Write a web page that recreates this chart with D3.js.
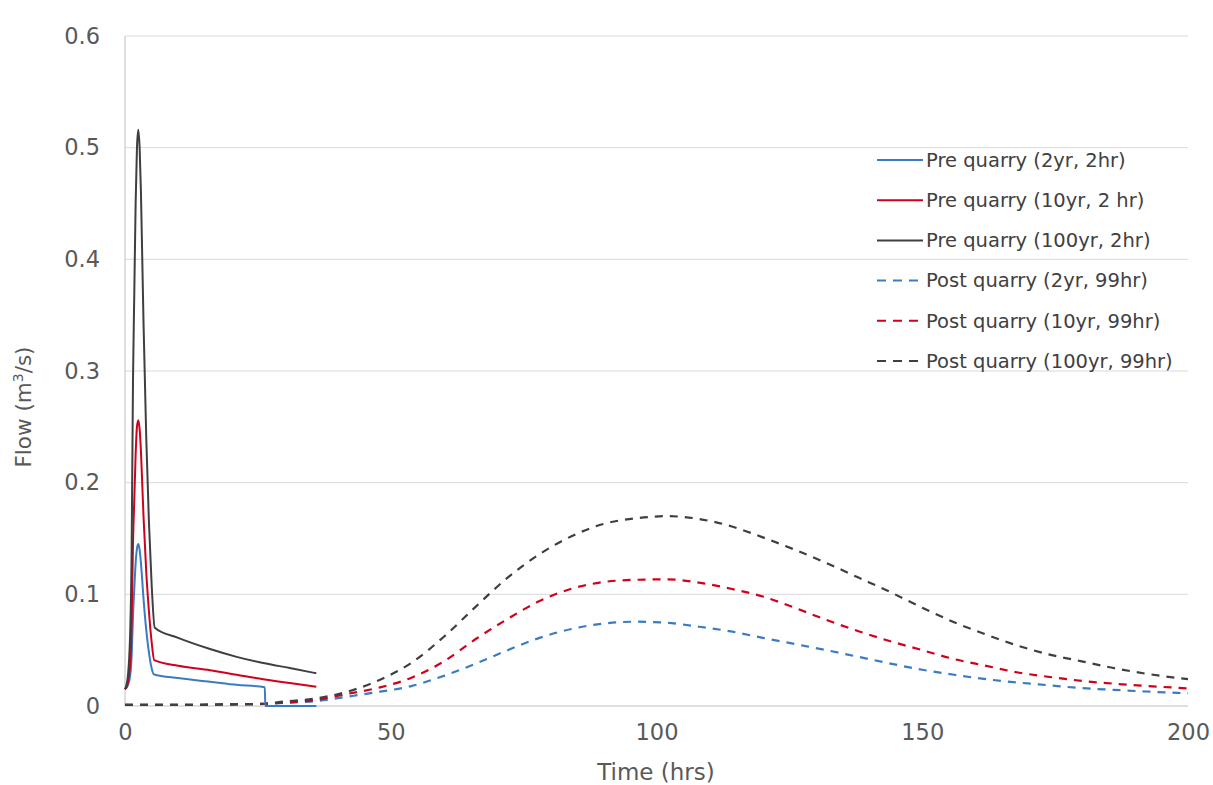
<!DOCTYPE html>
<html>
<head>
<meta charset="utf-8">
<script src="https://cdn.jsdelivr.net/npm/d3@7"></script>
<style>
  html, body { margin: 0; padding: 0; background: #fff; }
  svg { display: block; font-family: "DejaVu Sans", Verdana, sans-serif; }
</style>
</head>
<body>
<svg id="chart" width="1213" height="785"></svg>
<script>
// Hydrograph: flow (m3/s) against time (hrs), pre- and post-quarry design storms

const yTicks = [0, 0.1, 0.2, 0.3, 0.4, 0.5, 0.6];
const xTicks = [0, 50, 100, 150, 200];

// Pre quarry, 2 hr storms
const pre2Time   = [0, 0.5, 1, 1.25, 1.5, 1.75, 2, 2.25, 2.5, 2.75, 3, 3.25, 3.5, 4, 4.5, 5, 5.4, 10, 16, 21, 26.3, 26.4, 36];
const pre2Flow   = [0.015, 0.018, 0.028, 0.045, 0.08, 0.105, 0.128, 0.141, 0.145, 0.14, 0.128, 0.112, 0.095, 0.068, 0.048, 0.034, 0.0285, 0.025, 0.0218, 0.019, 0.0167, 0.0, 0.0];

const pre10Time  = [0, 0.5, 1, 1.25, 1.5, 1.75, 2, 2.25, 2.5, 2.75, 3, 3.25, 3.5, 4, 4.5, 5, 5.5, 10, 16, 21, 26, 31, 36];
const pre10Flow  = [0.015, 0.02, 0.04, 0.075, 0.145, 0.185, 0.225, 0.25, 0.256, 0.248, 0.228, 0.198, 0.168, 0.12, 0.085, 0.058, 0.041, 0.036, 0.032, 0.028, 0.024, 0.0205, 0.0173];

const pre100Time = [0, 0.5, 1, 1.25, 1.5, 1.75, 2, 2.25, 2.5, 2.75, 3, 3.25, 3.5, 4, 4.5, 5, 5.6, 10, 16, 21, 26, 31, 36];
const pre100Flow = [0.015, 0.025, 0.07, 0.14, 0.29, 0.37, 0.45, 0.5, 0.516, 0.5, 0.46, 0.4, 0.34, 0.24, 0.165, 0.11, 0.07, 0.061, 0.051, 0.044, 0.0385, 0.034, 0.0293];

// Post quarry, 99 hr storms
const postTime    = [0, 10, 20, 26, 30, 36, 42, 48, 54, 60, 66, 72, 78, 84, 90, 96, 102, 108, 114, 120, 126, 132, 138, 144, 150, 156, 162, 168, 174, 180, 186, 192, 200];
const post2Flow   = [0.001, 0.001, 0.0013, 0.0018, 0.0028, 0.0045, 0.0085, 0.0128, 0.018, 0.027, 0.038, 0.05, 0.061, 0.069, 0.0738, 0.0755, 0.0745, 0.071, 0.0668, 0.061, 0.0555, 0.05, 0.044, 0.038, 0.0325, 0.028, 0.024, 0.021, 0.0185, 0.016, 0.0145, 0.013, 0.0114];
const post10Flow  = [0.001, 0.001, 0.0015, 0.002, 0.003, 0.0055, 0.011, 0.0167, 0.0255, 0.04, 0.06, 0.078, 0.094, 0.105, 0.111, 0.113, 0.1134, 0.1105, 0.105, 0.098, 0.088, 0.077, 0.067, 0.058, 0.05, 0.042, 0.036, 0.03, 0.026, 0.0225, 0.02, 0.018, 0.0158];
const post100Flow = [0.001, 0.001, 0.0015, 0.002, 0.004, 0.0068, 0.013, 0.0235, 0.039, 0.062, 0.089, 0.115, 0.136, 0.152, 0.163, 0.168, 0.17, 0.1675, 0.161, 0.151, 0.14, 0.128, 0.115, 0.102, 0.088, 0.075, 0.064, 0.054, 0.046, 0.04, 0.034, 0.029, 0.024];

const seriesNames = [
  "Pre quarry (2yr, 2hr)",
  "Pre quarry (10yr, 2 hr)",
  "Pre quarry (100yr, 2hr)",
  "Post quarry (2yr, 99hr)",
  "Post quarry (10yr, 99hr)",
  "Post quarry (100yr, 99hr)"
];

const BLUE = "#3a7cc3", RED = "#d1001c", DARK = "#3f3f3f";

const series = [
  { name: seriesNames[3], t: postTime, v: post2Flow,   color: BLUE, dashed: true },
  { name: seriesNames[4], t: postTime, v: post10Flow,  color: RED,  dashed: true },
  { name: seriesNames[5], t: postTime, v: post100Flow, color: DARK, dashed: true },
  { name: seriesNames[0], t: pre2Time,   v: pre2Flow,   color: BLUE, dashed: false },
  { name: seriesNames[1], t: pre10Time,  v: pre10Flow,  color: RED,  dashed: false },
  { name: seriesNames[2], t: pre100Time, v: pre100Flow, color: DARK, dashed: false }
];

const svg = d3.select("#chart");
const plotL = 125, plotR = 1188, plotT = 36, plotB = 706;

const x = d3.scaleLinear().domain([0, 200]).range([plotL, plotR]);
const y = d3.scaleLinear().domain([0, 0.6]).range([plotB, plotT]);

// Horizontal gridlines
svg.append("g")
  .selectAll("line")
  .data(yTicks.filter(d => d > 0))
  .join("line")
  .attr("x1", plotL).attr("x2", plotR)
  .attr("y1", d => y(d)).attr("y2", d => y(d))
  .attr("stroke", "#d9d9d9").attr("stroke-width", 1);

// Axis lines
svg.append("line")
  .attr("x1", plotL).attr("x2", plotL).attr("y1", plotT).attr("y2", plotB)
  .attr("stroke", "#bfbfbf").attr("stroke-width", 1);
svg.append("line")
  .attr("x1", plotL).attr("x2", plotR).attr("y1", plotB).attr("y2", plotB)
  .attr("stroke", "#bfbfbf").attr("stroke-width", 1);

// Y tick labels
const yAxis = d3.axisLeft(y).tickValues(yTicks).tickSize(0).tickPadding(25)
  .tickFormat(d => d === 0 ? "0" : d3.format(".1f")(d));
const gy = svg.append("g").attr("transform", `translate(${plotL},0)`).call(yAxis);
gy.select(".domain").remove();
gy.selectAll("text").attr("font-size", 22.5).attr("fill", "#595959")
  .attr("font-family", "DejaVu Sans, Verdana, sans-serif");

// X tick labels
const xAxis = d3.axisBottom(x).tickValues(xTicks).tickSize(0).tickPadding(18)
  .tickFormat(d3.format("d"));
const gx = svg.append("g").attr("transform", `translate(0,${plotB})`).call(xAxis);
gx.select(".domain").remove();
gx.selectAll("text").attr("font-size", 22.5).attr("fill", "#595959")
  .attr("font-family", "DejaVu Sans, Verdana, sans-serif");

// Axis titles
svg.append("text")
  .attr("x", 656).attr("y", 780)
  .attr("text-anchor", "middle")
  .attr("font-size", 23).attr("fill", "#595959")
  .text("Time (hrs)");

const yTitle = svg.append("text")
  .attr("transform", `translate(31,${(plotT + plotB) / 2 + 36}) rotate(-90)`)
  .attr("text-anchor", "middle")
  .attr("font-size", 21.5).attr("fill", "#595959");
yTitle.append("tspan").text("Flow (m");
yTitle.append("tspan").attr("font-size", 14).attr("dy", -8).text("3");
yTitle.append("tspan").attr("dy", 8).text("/s)");

// Series lines
const line = d3.line()
  .x(d => x(d[0]))
  .y(d => y(d[1]))
  .curve(d3.curveMonotoneX);

svg.append("g")
  .selectAll("path")
  .data(series)
  .join("path")
  .attr("d", s => line(s.t.map((t, i) => [t, s.v[i]])))
  .attr("fill", "none")
  .attr("stroke", s => s.color)
  .attr("stroke-width", s => s.dashed ? 2.2 : 2)
  .attr("stroke-dasharray", s => s.dashed ? "8,7" : null)
  .attr("stroke-linejoin", "round");

// Legend
const legendOrder = [3, 4, 5, 0, 1, 2].map(i => series[i]);
const lg = svg.append("g").attr("transform", "translate(877,160)");
const items = lg.selectAll("g")
  .data(legendOrder)
  .join("g")
  .attr("transform", (d, i) => `translate(0,${i * 40.2})`);
items.append("line")
  .attr("x1", 0).attr("x2", 46).attr("y1", 0).attr("y2", 0)
  .attr("stroke", d => d.color)
  .attr("stroke-width", 2)
  .attr("stroke-dasharray", d => d.dashed ? "9,7" : null);
items.append("text")
  .attr("x", 49).attr("y", 0).attr("dy", "0.35em")
  .attr("font-size", 19.5).attr("fill", "#404040")
  .text(d => d.name);
</script>
</body>
</html>
